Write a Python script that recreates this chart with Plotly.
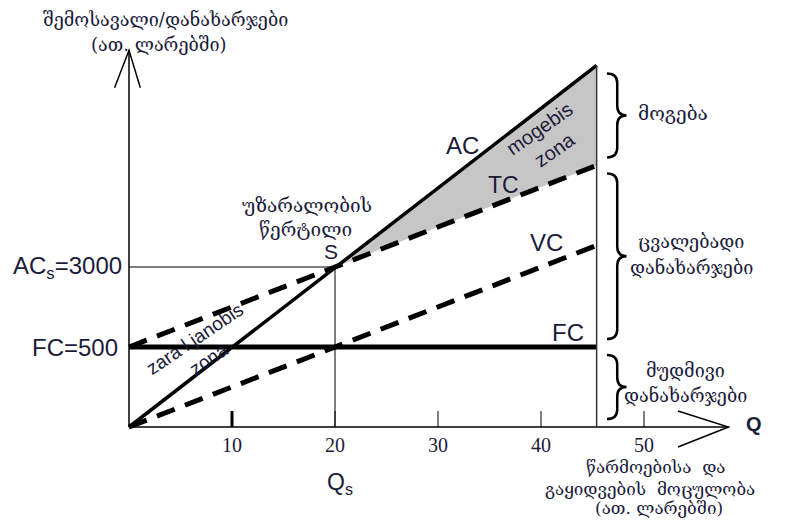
import plotly.graph_objects as go

# წარმოების მოცულობა (Q) და ხარჯების სქემატური დონეები (FC = 1, S = 2)
q = [0, 45.4]
ac = [0, 4.52]
tc = [1, 3.27]
vc = [0, 2.27]
fc = [1, 1]
q_s, y_s = 20, 2
tick_vals = [10, 20, 30, 40, 50]
tick_text = ['10', '20', '30', '40', '50']

ink = '#1b1b3a'
geo = 'DejaVu Serif'
lat = 'Liberation Sans'

fig = go.Figure()

# მოგების ზონა
fig.add_trace(go.Scatter(
    x=[q_s, q[1], q[1]], y=[y_s, ac[1], tc[1]],
    fill='toself', fillcolor='#c6c6c6', mode='none', hoverinfo='skip'
))

fig.add_trace(go.Scatter(x=q, y=fc, mode='lines', line=dict(color='black', width=5)))
fig.add_trace(go.Scatter(x=q, y=vc, mode='lines', line=dict(color='black', width=5, dash='19px,11px')))
fig.add_trace(go.Scatter(x=q, y=tc, mode='lines', line=dict(color='black', width=5, dash='19px,11px')))
fig.add_trace(go.Scatter(x=q, y=ac, mode='lines', line=dict(color='black', width=3.5)))

# tick labels on the Q axis
fig.add_trace(go.Scatter(
    x=tick_vals, y=[-0.25] * len(tick_vals), mode='text', text=tick_text,
    textfont=dict(family='Liberation Serif', size=20, color=ink), hoverinfo='skip'
))

# axes
fig.add_shape(type='line', x0=0, y0=0, x1=0, y1=4.71, line=dict(color='black', width=1.5))
fig.add_shape(type='path', path='M -1.4,4.24 L 0,4.71 L 1.1,4.24', line=dict(color='black', width=1.5))
fig.add_shape(type='line', x0=0, y0=0, x1=58.2, y1=0, line=dict(color='black', width=1.5))
fig.add_shape(type='path', path='M 53.3,0.2 L 58.2,0 L 53.3,-0.25', line=dict(color='black', width=1.5))
for t in tick_vals:
    fig.add_shape(type='line', x0=t, y0=0, x1=t, y1=0.2,
                  line=dict(color='black', width=3 if t == 10 else 1))

# break-even guides and right border
fig.add_shape(type='line', x0=0, y0=y_s, x1=q_s, y1=y_s, line=dict(color='black', width=1))
fig.add_shape(type='line', x0=q_s, y0=0, x1=q_s, y1=y_s, line=dict(color='black', width=1))
fig.add_shape(type='line', x0=q[1], y0=0, x1=q[1], y1=ac[1], line=dict(color='#333', width=1.5))


def brace(y_lo, y_hi):
    x0, x1, x2 = 46.4, 47.4, 48.3
    y_lo, y_hi = y_lo + 0.1, y_hi - 0.1
    ym = (y_lo + y_hi) / 2
    d = 0.12
    return (f'M {x0},{y_hi} Q {x1},{y_hi} {x1},{y_hi - d} L {x1},{ym + d} '
            f'Q {x1},{ym} {x2},{ym} Q {x1},{ym} {x1},{ym - d} '
            f'L {x1},{y_lo + d} Q {x1},{y_lo} {x0},{y_lo}')


for lo, hi in [(tc[1], ac[1]), (fc[1], tc[1]), (0, fc[0])]:
    fig.add_shape(type='path', path=brace(lo, hi), line=dict(color='black', width=2.5))


def note(x, y, text, family=geo, size=16, angle=0, anchor='center', **kw):
    fig.add_annotation(x=x, y=y, text=text, showarrow=False, textangle=angle,
                       xanchor=anchor, font=dict(family=family, size=size, color=ink), **kw)


note(3.5, 5.1, 'შემოსავალი/დანახარჯები', size=18)
note(2.9, 4.78, '(ათ. ლარებში)', size=18)
note(-0.5, y_s, 'AC<sub>s</sub>=3000', family=lat, size=24, anchor='right')
note(-0.9, fc[0], 'FC=500', family=lat, size=24, anchor='right')

note(32.4, 3.52, 'AC', family=lat, size=24)
note(36.4, 3.03, 'TC', family=lat, size=23)
note(40.5, 2.31, 'VC', family=lat, size=24)
note(42.6, 1.18, 'FC', family=lat, size=24)

note(40.6, 3.6, 'mogebis<br>zona', family=lat, size=20, angle=-35)
note(7.1, 0.97, 'zara l janobis<br>zona', family=lat, size=19, angle=-34)

note(17.3, 2.78, 'უზარალობის', size=19)
note(17.1, 2.47, 'წერტილი', size=19)
note(19.6, 2.2, 'S', family=lat, size=21)

note(20.5, -0.7, 'Q<sub>s</sub>', family=lat, size=23)
note(51.2, -0.5, 'წარმოებისა  და', size=17)
note(50.6, -0.77, 'გაყიდვების  მოცულობა', size=17)
note(51.5, -1.01, '(ათ. ლარებში)', size=17)
note(60.7, 0.04, '<b>Q</b>', family=lat, size=20)

note(49.2, 3.92, 'მოგება', size=19, anchor='left')
note(54.6, 2.32, 'ცვალებადი', size=18)
note(54.6, 2.0, 'დანახარჯები', size=18)
note(54.0, 0.71, 'მუდმივი', size=18)
note(54.0, 0.4, 'დანახარჯები', size=18)

# the page body adds an 8px margin, so the figure is 8px smaller and the ranges start 8px in
fig.update_layout(
    width=780, height=513, margin=dict(l=0, r=0, t=0, b=0),
    showlegend=False, plot_bgcolor='white', paper_bgcolor='white',
    xaxis=dict(range=[-11.748, 63.98], visible=False),
    yaxis=dict(range=[-1.175, 5.2375], visible=False),
)

fig.write_html('out.html')
